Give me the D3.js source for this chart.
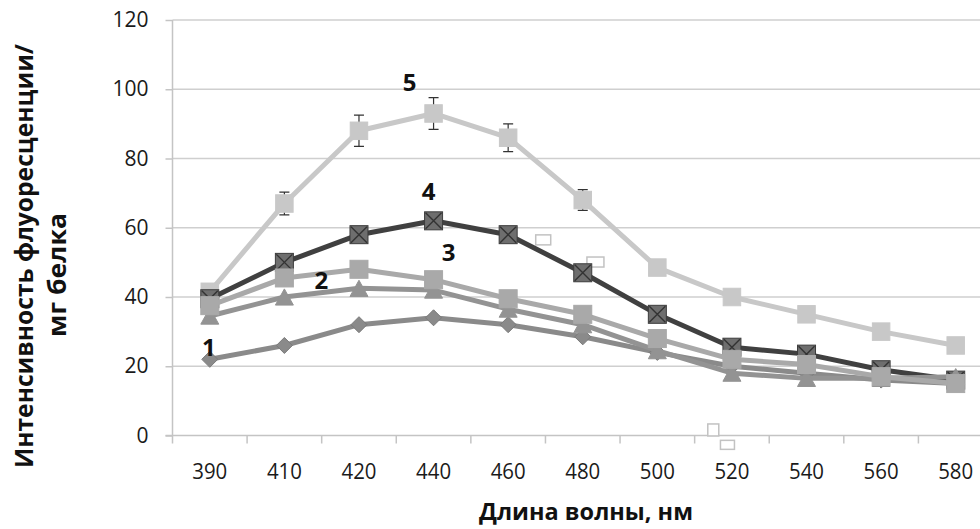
<!DOCTYPE html>
<html>
<head>
<meta charset="utf-8">
<script src="https://cdn.jsdelivr.net/npm/d3@7"></script>
<style>
  html, body { margin: 0; padding: 0; background: #fff; }
  svg { display: block; font-family: "Open Sans", "Noto Sans", sans-serif; }
</style>
</head>
<body>
<svg id="chart" width="980" height="529"></svg>
<script>
// Wavelength categories (nm)
const categories = ["390", "410", "420", "440", "460", "480", "500", "520", "540", "560", "580"];

// Fluorescence intensity per mg protein, one array per sample
const series1 = [22, 26, 32, 34, 32, 28.5, 24, 20, 18, 16, 15];
const series2 = [34.5, 40, 42.5, 42, 36.5, 32, 24.5, 18, 16.5, 16.5, 17];
const series3 = [37.5, 45.5, 48, 45, 39.5, 35, 28, 22, 20.5, 17, 15];
const series4 = [39.5, 50, 58, 62, 58, 47, 35, 25.5, 23.5, 19, 16];
const series5 = [41.5, 67, 88, 93, 86, 68, 48.5, 40, 35, 30, 26];
const series5Err = [0, 3.3, 4.5, 4.6, 4, 3, 0, 0, 0, 0, 0];

const yTickValues = [0, 20, 40, 60, 80, 100, 120];
const seriesNames = ["1", "2", "3", "4", "5"];

const svg = d3.select("#chart");

const plot = { left: 172.5, right: 993, top: 20, bottom: 435.5 };

const x = d3.scaleBand().domain(categories).range([plot.left, plot.right]).paddingInner(0).paddingOuter(0);
const y = d3.scaleLinear().domain([0, 120]).range([plot.bottom, plot.top]);
const cx = c => x(c) + x.bandwidth() / 2;

// Horizontal gridlines
svg.append("g")
  .selectAll("line")
  .data(yTickValues.filter(v => v > 0))
  .join("line")
  .attr("x1", plot.left).attr("x2", 980)
  .attr("y1", d => y(d)).attr("y2", d => y(d))
  .attr("stroke", "#cfcfcf").attr("stroke-width", 1.5);

// Y axis
const yAxis = svg.append("g")
  .attr("transform", `translate(${plot.left},0)`)
  .call(d3.axisLeft(y).tickValues(yTickValues).tickSize(7).tickPadding(17));
yAxis.select(".domain").attr("stroke", "#c4c4c4").attr("stroke-width", 1.5)
  .attr("d", `M0,${plot.top}V${plot.bottom + 8}`);
yAxis.selectAll(".tick line").attr("stroke", "#c4c4c4").attr("stroke-width", 1.5);
yAxis.selectAll(".tick text").attr("font-size", 21).attr("fill", "#1a1a1a")
  .attr("font-family", "'Open Sans', sans-serif");

// X axis: baseline, ticks between categories, labels at band centres
const xAxis = svg.append("g").attr("transform", `translate(0,${plot.bottom})`);
xAxis.append("line")
  .attr("x1", plot.left - 7).attr("x2", 980)
  .attr("stroke", "#c4c4c4").attr("stroke-width", 1.5);
xAxis.selectAll("line.tick")
  .data(categories.slice(1))
  .join("line").attr("class", "tick")
  .attr("x1", d => x(d)).attr("x2", d => x(d))
  .attr("y1", 0).attr("y2", 8)
  .attr("stroke", "#c4c4c4").attr("stroke-width", 1.5);
xAxis.selectAll("text")
  .data(categories)
  .join("text")
  .attr("x", d => cx(d)).attr("y", 43)
  .attr("text-anchor", "middle")
  .attr("font-size", 21.5).attr("fill", "#1a1a1a")
  .attr("textLength", 35).attr("lengthAdjust", "spacingAndGlyphs")
  .text(d => d);

// Axis titles
svg.append("text")
  .attr("x", 586).attr("y", 520)
  .attr("text-anchor", "middle")
  .attr("font-size", 24).attr("font-weight", "bold").attr("fill", "#111")
  .attr("textLength", 214).attr("lengthAdjust", "spacingAndGlyphs")
  .text("Длина волны, нм");

svg.append("text")
  .attr("transform", "translate(33,256) rotate(-90)")
  .attr("text-anchor", "middle")
  .attr("font-size", 25).attr("font-weight", "bold").attr("fill", "#111")
  .attr("textLength", 424).attr("lengthAdjust", "spacingAndGlyphs")
  .text("Интенсивность флуоресценции/");
svg.append("text")
  .attr("transform", "translate(66,275) rotate(-90)")
  .attr("text-anchor", "middle")
  .attr("font-size", 25).attr("font-weight", "bold").attr("fill", "#111")
  .attr("textLength", 124).attr("lengthAdjust", "spacingAndGlyphs")
  .text("мг белка");

// Empty data-label frames left on the chart
const emptyLabels = [
  { cat: "460", shift: 0.47, value: 56.5, w: 15, h: 10 },
  { cat: "480", shift: 0.17, value: 50.1, w: 17, h: 10 },
  { cat: "500", shift: 0.75, value: 1.6, w: 11, h: 12 },
  { cat: "520", shift: -0.06, value: -2.7, w: 14, h: 9 }
];
svg.append("g").selectAll("rect")
  .data(emptyLabels)
  .join("rect")
  .attr("x", d => cx(d.cat) + d.shift * x.bandwidth() - d.w / 2)
  .attr("y", d => y(d.value) - d.h / 2)
  .attr("width", d => d.w).attr("height", d => d.h)
  .attr("fill", "#fff").attr("stroke", "#c2c2c2").attr("stroke-width", 1.5);

const line = d3.line().x((d, i) => cx(categories[i])).y(d => y(d));

const styles = {
  "1": { data: series1, color: "#8a8a8a", marker: "diamond", mfill: "#8a8a8a", size: 16 },
  "2": { data: series2, color: "#939393", marker: "triangle", mfill: "#939393", size: 18 },
  "3": { data: series3, color: "#a9a9a9", marker: "square", mfill: "#a9a9a9", size: 18 },
  "4": { data: series4, color: "#404040", marker: "xsquare", mfill: "#6e6e6e", size: 18 },
  "5": { data: series5, color: "#c8c8c8", marker: "square", mfill: "#c8c8c8", size: 17.5 }
};

function drawMarker(g, kind, px, py, s, fill) {
  if (kind === "square" || kind === "xsquare") {
    g.append("rect").attr("x", px - s / 2).attr("y", py - s / 2)
      .attr("width", s).attr("height", s).attr("fill", fill)
      .attr("stroke", kind === "xsquare" ? "#3c3c3c" : fill).attr("stroke-width", 1);
    if (kind === "xsquare") {
      const h = s / 2 - 1;
      g.append("path")
        .attr("d", `M${px - h},${py - h}L${px + h},${py + h}M${px + h},${py - h}L${px - h},${py + h}`)
        .attr("stroke", "#333").attr("stroke-width", 1.4);
    }
  } else if (kind === "triangle") {
    const w = s, h = s * 0.9;
    g.append("path")
      .attr("d", `M${px},${py - h / 2}L${px + w / 2},${py + h / 2}L${px - w / 2},${py + h / 2}Z`)
      .attr("fill", fill).attr("stroke", fill);
  } else if (kind === "diamond") {
    const r = s / 2;
    g.append("path")
      .attr("d", `M${px},${py - r}L${px + r},${py}L${px},${py + r}L${px - r},${py}Z`)
      .attr("fill", fill).attr("stroke", "#7a7a7a").attr("stroke-width", 1);
  }
}

// Series drawn in stacking order
["5", "4", "1", "2", "3"].forEach(name => {
  const st = styles[name];
  const g = svg.append("g");
  g.append("path").datum(st.data)
    .attr("d", line).attr("fill", "none")
    .attr("stroke", st.color).attr("stroke-width", 5)
    .attr("stroke-linejoin", "round").attr("stroke-linecap", "round");

  if (name === "5") {
    const eb = g.append("g");
    series5.forEach((v, i) => {
      const e = series5Err[i];
      if (!e) return;
      const px = cx(categories[i]);
      eb.append("path")
        .attr("d", `M${px},${y(v + e)}V${y(v - e)}M${px - 5},${y(v + e)}H${px + 5}M${px - 5},${y(v - e)}H${px + 5}`)
        .attr("stroke", "#333").attr("stroke-width", 1.2).attr("fill", "none");
    });
  }

  st.data.forEach((v, i) => drawMarker(g, st.marker, cx(categories[i]), y(v), st.size, st.mfill));
});

// Series number labels
const seriesLabels = [
  { name: "5", cat: "440", value: 102, dx: -24 },
  { name: "4", cat: "440", value: 70.3, dx: -5 },
  { name: "3", cat: "440", value: 52.7, dx: 15 },
  { name: "2", cat: "410", value: 44.6, dx: 37 },
  { name: "1", cat: "390", value: 25.3, dx: -1 }
];
svg.append("g").selectAll("text")
  .data(seriesLabels)
  .join("text")
  .attr("x", d => cx(d.cat) + d.dx)
  .attr("y", d => y(d.value))
  .attr("dy", "0.35em")
  .attr("text-anchor", "middle")
  .attr("font-size", 24).attr("font-weight", "bold").attr("fill", "#111")
  .text(d => d.name);
</script>
</body>
</html>
